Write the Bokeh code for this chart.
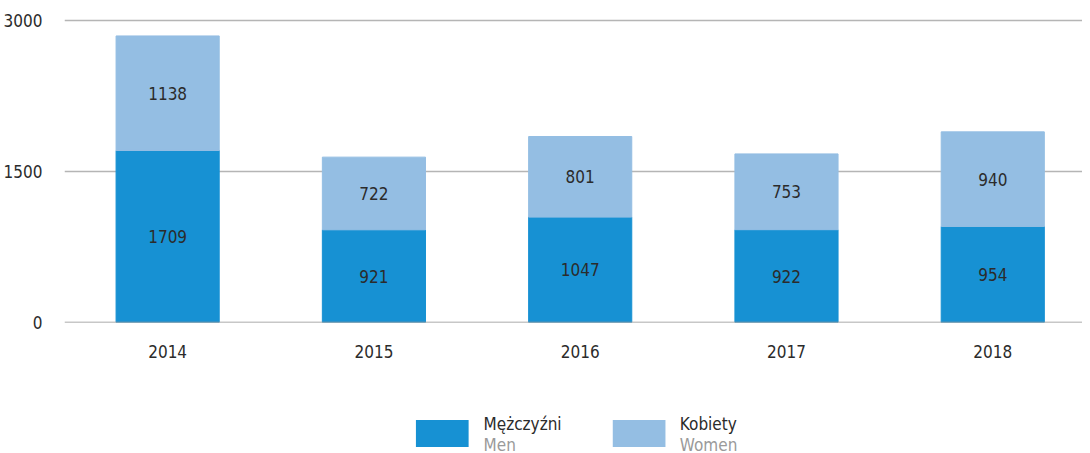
from bokeh.plotting import figure
from bokeh.models import Range1d, FixedTicker, Span, ColumnDataSource
from bokeh.layouts import column
from bokeh.core.properties import value
from bokeh.embed import file_html
from bokeh.resources import INLINE

years = ["2014", "2015", "2016", "2017", "2018"]
men = [1709, 921, 1047, 922, 954]
women = [1138, 722, 801, 753, 940]
y_ticks = [0, 1500, 3000]
legend_pl = ["Mężczyźni", "Kobiety"]
legend_en = ["Men", "Women"]

C_MEN = "#1791d3"
C_WOMEN = "#94bee3"
TXT = "#2b2b2b"
FONT = "'DejaVu Sans Condensed', 'DejaVu Sans', sans-serif"
FS = "17px"

xs = list(range(len(years)))
src = ColumnDataSource(dict(
    x=xs,
    men=men,
    women=women,
    men_mid=[m / 2 for m in men],
    women_mid=[m + w / 2 for m, w in zip(men, women)],
    men_lbl=[str(m) for m in men],
    women_lbl=[str(w) for w in women],
))

p = figure(width=1082, height=370, output_backend="svg", toolbar_location=None,
           x_range=Range1d(-0.5, 4.435), y_range=Range1d(0, 3080),
           min_border_left=58, min_border_right=0, min_border_top=12, min_border_bottom=48)
p.outline_line_color = None
p.xgrid.visible = False
p.ygrid.ticker = FixedTicker(ticks=y_ticks[1:])
p.ygrid.grid_line_color = "#b5b5b5"
p.ygrid.grid_line_width = 1.5

p.add_layout(Span(location=0, dimension="width", line_color="#8f8f8f", line_width=1.5))

p.vbar_stack(["men", "women"], x="x", width=0.5, color=[C_MEN, C_WOMEN], source=src)

for ycol, tcol in (("men_mid", "men_lbl"), ("women_mid", "women_lbl")):
    p.text(x="x", y=ycol, text=tcol, source=src, text_align="center", text_baseline="middle",
           text_font=value(FONT), text_font_size=FS, text_color=TXT)

p.xaxis.ticker = FixedTicker(ticks=xs)
p.xaxis.major_label_overrides = {i: y for i, y in enumerate(years)}
p.yaxis.ticker = FixedTicker(ticks=y_ticks)
for ax in (p.xaxis, p.yaxis):
    ax.axis_line_color = None
    ax.major_tick_line_color = None
    ax.minor_tick_line_color = None
    ax.major_tick_in = 0
    ax.major_tick_out = 0
    ax.major_label_text_font = FONT
    ax.major_label_text_font_size = FS
    ax.major_label_text_color = TXT
p.xaxis.major_label_standoff = 22
p.yaxis.major_label_standoff = 22

# legend panel (its frame is aligned with the chart frame horizontally)
leg = figure(width=1082, height=83, output_backend="svg", toolbar_location=None,
             x_range=Range1d(66, 1090), y_range=Range1d(83, 0),
             min_border_left=58, min_border_right=0, min_border_top=0, min_border_bottom=0)
leg.axis.visible = False
leg.grid.visible = False
leg.outline_line_color = None
leg_src = ColumnDataSource(dict(
    px=[446, 644], tx=[487.5, 685], col=[C_MEN, C_WOMEN], pl=legend_pl, en=legend_en))
leg.rect(x="px", y=63, width=53, height=27, fill_color="col", line_color=None, source=leg_src)
leg.text(x="tx", y=53, text="pl", source=leg_src, text_baseline="middle",
         text_font=value(FONT), text_font_size=FS, text_color=TXT)
leg.text(x="tx", y=74, text="en", source=leg_src, text_baseline="middle",
         text_font=value(FONT), text_font_size=FS, text_color="#9a9a9a")

layout = column(p, leg, spacing=0)
open("out.html", "w").write(file_html(layout, INLINE))
